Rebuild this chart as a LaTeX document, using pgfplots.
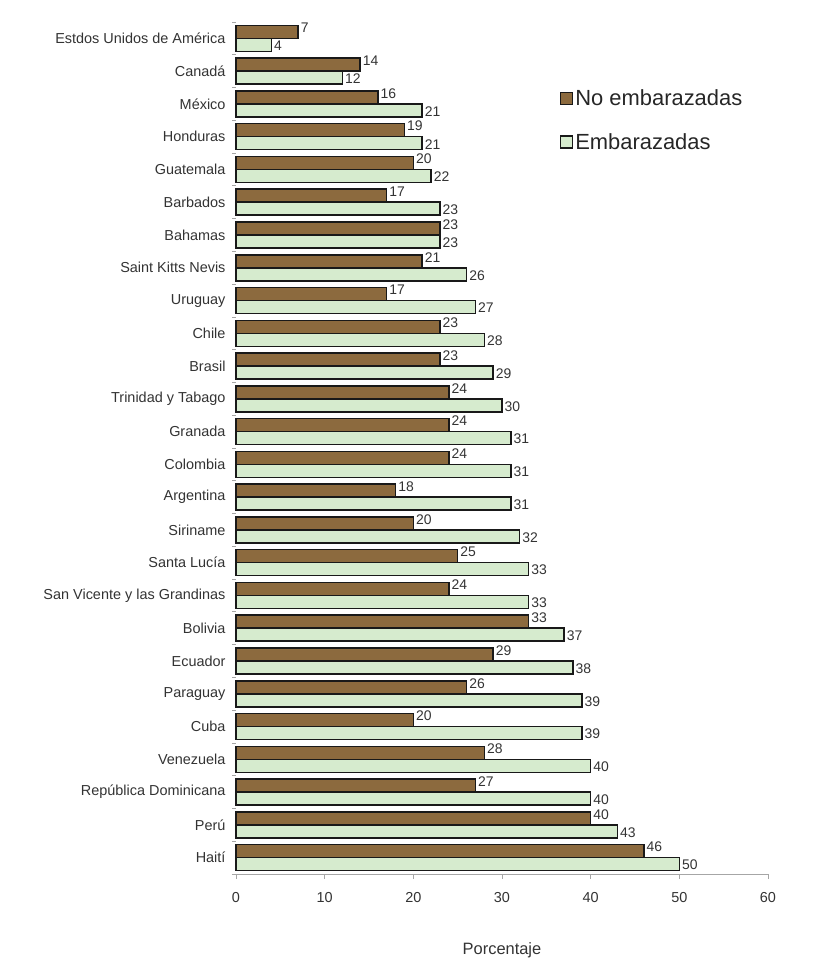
\documentclass[border=0pt]{standalone}
\usepackage{pgfplots}
\pgfplotsset{compat=1.18}
\usepackage{pgfplotstable}
\usepackage{fontspec}
\setmainfont{Liberation Sans}
\definecolor{brownbar}{RGB}{140,106,62}
\definecolor{greenbar}{RGB}{214,235,206}
\pgfplotstableread{
y nemb emb
0 46 50
1 40 43
2 27 40
3 28 40
4 20 39
5 26 39
6 29 38
7 33 37
8 24 33
9 25 33
10 20 32
11 18 31
12 24 31
13 24 31
14 24 30
15 23 29
16 23 28
17 17 27
18 21 26
19 23 23
20 17 23
21 20 22
22 19 21
23 16 21
24 14 12
25 7 4
}\datatable
\begin{document}
\begin{tikzpicture}
\useasboundingbox (-236bp,-94bp) rectangle (583bp,874bp);
\begin{axis}[
  at={(0,0)}, anchor=south west,
  scale only axis, width=532bp, height=852bp,
  xbar, bar width=13bp,
  xmin=0, xmax=60, ymin=-0.5, ymax=25.5,
  xtick={0,10,...,60},
  ytick={0,...,25},
  yticklabels={Haití,Perú,República Dominicana,Venezuela,Cuba,Paraguay,Ecuador,Bolivia,San Vicente y las Grandinas,Santa Lucía,Siriname,Argentina,Colombia,Granada,Trinidad y Tabago,Brasil,Chile,Uruguay,Saint Kitts Nevis,Bahamas,Barbados,Guatemala,Honduras,México,Canadá,Estdos Unidos de América},
  minor ytick={-0.5,0.5,...,25.5},
  major y tick style={draw=none},
  minor tick length=4bp,
  major tick length=5bp,
  tick align=outside,
  axis x line*=bottom, axis y line*=left,
  axis line style={gray!70, line width=0.8pt},
  tick style={gray!70, line width=0.8pt},
  y axis line style={draw=none},
  ticklabel style={font=\fontsize{14.5}{16}\selectfont, text=black!80},
  /pgf/number format/assume math mode=true,
  xlabel={Porcentaje},
  xlabel style={font=\fontsize{16.5}{18}\selectfont, text=black!80, yshift=-33bp},
  yticklabel style={xshift=-2bp},
  xticklabel style={yshift=-10bp},
  legend style={at={(0.603,0.925)}, anchor=north west, draw=none, fill=none,
    font=\fontsize{22}{24}\selectfont, row sep=22bp, cells={anchor=west},
    text=black!85},
  legend image code/.code={\draw[#1, line width=1.4pt] (0bp,-6bp) rectangle (12bp,6bp);},
  nodes near coords,
  nodes near coords style={font=\fontsize{14}{16}\selectfont, text=black!80, anchor=west, inner sep=2bp},
  clip=false,
]
\addplot[draw=black!90, line width=1.5pt, fill=brownbar, bar shift=6.5bp,
  nodes near coords style={yshift=4bp}] table[x=nemb, y=y] {\datatable};
\addlegendentry{No embarazadas}
\addplot[draw=black!90, line width=1.5pt, fill=greenbar, bar shift=-6.5bp,
  nodes near coords style={yshift=-1bp}] table[x=emb, y=y] {\datatable};
\addlegendentry{Embarazadas}
\end{axis}
\end{tikzpicture}
\end{document}
